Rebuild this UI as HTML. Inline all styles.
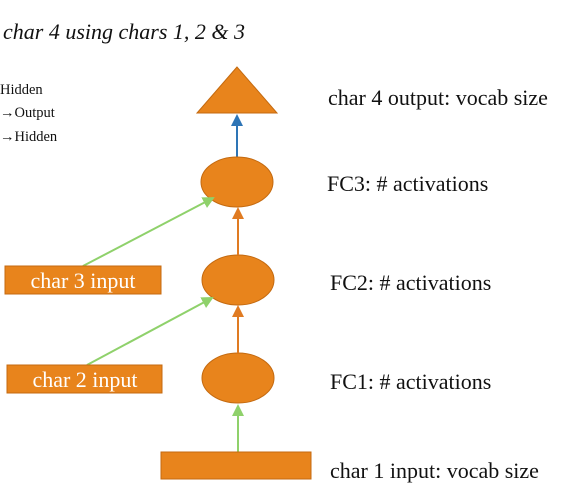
<!DOCTYPE html>
<html><head><meta charset="utf-8"><style>
html,body{margin:0;padding:0;background:#fff;width:586px;height:500px;overflow:hidden}
svg text{font-family:"Liberation Serif",serif}
</style></head><body>
<svg width="586" height="500" xmlns="http://www.w3.org/2000/svg">
<defs>
<marker id="ab" markerWidth="6" markerHeight="6" refX="5" refY="3" orient="auto"><path d="M0,0 L6,3 L0,6 z" fill="#2e75b6"/></marker>
<marker id="ao" markerWidth="6" markerHeight="6" refX="5" refY="3" orient="auto"><path d="M0,0 L6,3 L0,6 z" fill="#e07b22"/></marker>
<marker id="ag" markerWidth="6" markerHeight="6" refX="5" refY="3" orient="auto"><path d="M0,0 L6,3 L0,6 z" fill="#8fd16b"/></marker>
</defs>
<text x="3" y="39" font-size="22" font-style="italic" fill="#111">char 4 using chars 1, 2 &amp; 3</text>
<text x="0" y="94" font-size="14.5" fill="#111">Hidden</text>
<text x="0" y="117" font-size="14.5" fill="#111">→Output</text>
<text x="0" y="141" font-size="14.5" fill="#111">→Hidden</text>
<polygon points="237,67 197,113 277,113" fill="#e8841c" stroke="#c46a10"/>
<line x1="237" y1="157" x2="237" y2="116" stroke="#2e75b6" stroke-width="2" marker-end="url(#ab)"/>
<ellipse cx="237" cy="182" rx="36" ry="25" fill="#e8841c" stroke="#c46a10"/>
<ellipse cx="238" cy="280" rx="36" ry="25" fill="#e8841c" stroke="#c46a10"/>
<ellipse cx="238" cy="378" rx="36" ry="25" fill="#e8841c" stroke="#c46a10"/>
<line x1="238" y1="255" x2="238" y2="209" stroke="#e07b22" stroke-width="2" marker-end="url(#ao)"/>
<line x1="238" y1="353" x2="238" y2="307" stroke="#e07b22" stroke-width="2" marker-end="url(#ao)"/>
<line x1="238" y1="452" x2="238" y2="406" stroke="#8fd16b" stroke-width="2" marker-end="url(#ag)"/>
<line x1="83" y1="266" x2="213" y2="198" stroke="#8fd16b" stroke-width="2" marker-end="url(#ag)"/>
<line x1="87" y1="365" x2="212" y2="298" stroke="#8fd16b" stroke-width="2" marker-end="url(#ag)"/>
<rect x="5" y="266" width="156" height="28" fill="#e8841c" stroke="#c46a10"/>
<text x="83" y="288" font-size="22" fill="#fff" text-anchor="middle">char 3 input</text>
<rect x="7" y="365" width="155" height="28" fill="#e8841c" stroke="#c46a10"/>
<text x="85" y="387" font-size="22" fill="#fff" text-anchor="middle">char 2 input</text>
<rect x="161" y="452" width="150" height="27" fill="#e8841c" stroke="#c46a10"/>
<text x="328" y="105" font-size="22" fill="#111">char 4 output: vocab size</text>
<text x="327" y="191" font-size="22" fill="#111">FC3: # activations</text>
<text x="330" y="290" font-size="22" fill="#111">FC2: # activations</text>
<text x="330" y="389" font-size="22" fill="#111">FC1: # activations</text>
<text x="330" y="478" font-size="22" fill="#111">char 1 input: vocab size</text>
</svg>
</body></html>
